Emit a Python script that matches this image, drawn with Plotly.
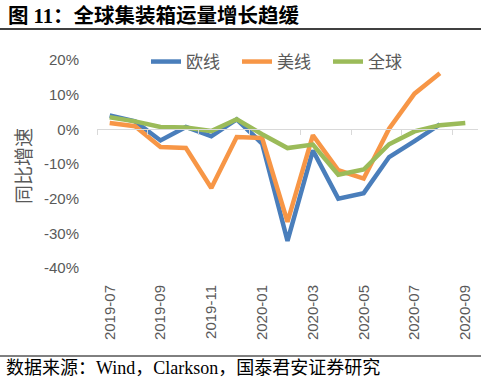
import plotly.graph_objects as go

months = ["2019-07", "2019-08", "2019-09", "2019-10", "2019-11", "2019-12",
          "2020-01", "2020-02", "2020-03", "2020-04", "2020-05", "2020-06",
          "2020-07", "2020-08", "2020-09"]
eu_line = [4.0, 2.3, -3.2, 0.7, -2.0, 2.9, -4.1, -32.2, -6.1, -20.0, -18.4, -8.0, -3.4, 1.4, None]
us_line = [1.8, 0.9, -5.1, -5.4, -16.9, -2.2, -2.5, -26.7, -1.7, -11.8, -14.2, 0.2, 10.3, 16.2, None]
global_line = [3.5, 2.3, 0.7, 0.5, -0.5, 2.9, -1.4, -5.4, -4.4, -13.1, -11.6, -4.3, -0.6, 1.2, 1.8]
series_names = ["欧线", "美线", "全球"]
colors = ["#4A7EBB", "#F79646", "#9BBB59"]
ytick_vals = [-40, -30, -20, -10, 0, 10, 20]
ytick_text = ["-40%", "-30%", "-20%", "-10%", "0%", "10%", "20%"]
xtick_labels = months[::2]

title_text = "图 11：全球集装箱运量增长趋缓"
source_text = "数据来源：Wind，Clarkson，国泰君安证券研究"
ytitle = "同比增速"

W, H = 481, 379
L, R, T, B = 97, 3, 60, 111
pw, ph = W - L - R, H - T - B

def px_x(x):
    return (x - L) / pw

def px_y(y):
    return (H - B - y) / ph

fig = go.Figure()
for name, vals, c in zip(series_names, [eu_line, us_line, global_line], colors):
    fig.add_trace(go.Scatter(x=months, y=vals, name=name, mode="lines",
                             line=dict(color=c, width=4.5), connectgaps=False))

# helper trace for the zero-crossing axis with tick marks
fig.add_trace(go.Scatter(x=list(range(len(months))), y=[None] * len(months), xaxis="x2",
                         showlegend=False, hoverinfo="skip", mode="lines"))

cjk = "Liberation Sans, Noto Sans CJK SC, sans-serif"
serif = "Liberation Serif, Noto Sans CJK SC, serif"

fig.update_layout(
    width=W, height=H,
    margin=dict(l=L, r=R, t=T, b=B),
    paper_bgcolor="white", plot_bgcolor="white",
    font=dict(family=cjk, color="#595959", size=15),
    showlegend=True,
    legend=dict(orientation="h", x=px_x(146), y=px_y(62), xanchor="left", yanchor="middle",
                font=dict(size=17, color="#595959"), bgcolor="rgba(0,0,0,0)",
                entrywidth=46, entrywidthmode="pixels"),
    xaxis=dict(type="category", categoryorder="array", categoryarray=months,
               range=[-0.5, len(months) - 0.5],
               tickmode="array", tickvals=xtick_labels, ticktext=xtick_labels,
               tickangle=-90, showgrid=False, showline=False, zeroline=False,
               ticks="outside", ticklen=10, tickcolor="rgba(0,0,0,0)",
               tickfont=dict(size=15, color="#595959")),
    xaxis2=dict(overlaying="x", anchor="free", position=40 / 60,
                range=[-0.5, len(months) - 0.5], showline=True, linecolor="#D9D9D9", linewidth=1,
                ticks="outside", ticklen=5, tickcolor="#D9D9D9",
                tickmode="array", tickvals=[i - 0.5 for i in range(0, len(months), 2)],
                showticklabels=False, showgrid=False, zeroline=False),
    yaxis=dict(range=[-40, 20], tickmode="array", tickvals=ytick_vals, ticktext=ytick_text,
               showgrid=False, showline=False, zeroline=False,
               ticks="outside", ticklen=14, tickcolor="rgba(0,0,0,0)",
               tickfont=dict(size=15, color="#595959")),
)

fig.add_annotation(text=ytitle, xref="paper", yref="paper", x=px_x(24), y=px_y(166),
                   textangle=-90, showarrow=False, font=dict(size=19, color="#595959", family=cjk),
                   xanchor="center", yanchor="middle")
fig.add_annotation(text="<b>" + title_text + "</b>", xref="paper", yref="paper", x=px_x(6), y=px_y(15),
                   showarrow=False, xanchor="left", yanchor="middle",
                   font=dict(size=20.5, color="#000000", family=serif))
fig.add_annotation(text=source_text, xref="paper", yref="paper", x=px_x(4), y=px_y(368),
                   showarrow=False, xanchor="left", yanchor="middle",
                   font=dict(size=18, color="#000000", family=serif))
fig.add_shape(type="line", xref="paper", yref="paper", x0=px_x(0), x1=px_x(481),
              y0=px_y(29), y1=px_y(29), line=dict(color="#000000", width=1.5))
fig.add_shape(type="line", xref="paper", yref="paper", x0=px_x(0), x1=px_x(481),
              y0=px_y(356), y1=px_y(356), line=dict(color="#000000", width=1))

fig.write_html("out.html", config={"displayModeBar": False},
               post_script="document.body.style.margin='0';document.body.style.padding='0';")
